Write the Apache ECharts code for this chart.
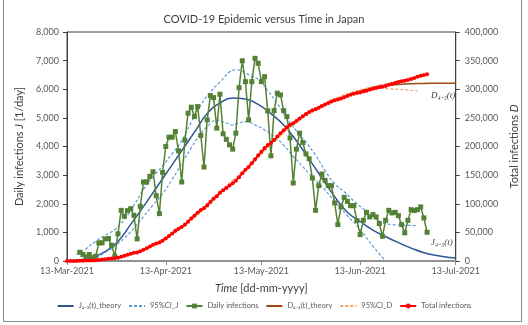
<!DOCTYPE html>
<html>
<head>
<meta charset="utf-8">
<script src="https://cdn.jsdelivr.net/npm/echarts@6/dist/echarts.min.js"></script>
<style>
  html, body { margin: 0; padding: 0; background: #fff; }
  #wrap { position: relative; width: 528px; height: 325px; }
  #chart { width: 528px; height: 325px; }
  #frame { position: absolute; left: 3px; top: -1px; width: 519px; height: 323px;
           border: 1px solid #8c8c8c; box-sizing: border-box; pointer-events: none; }
</style>
</head>
<body>
<div id="wrap"><div id="chart"></div><div id="frame"></div></div>
<script>
// X axis: days counted from 13-Mar-2021
const xTickDays = [0, 31, 61, 92, 122];
const xTickLabels = ['13-Mar-2021', '13-Apr-2021', '13-May-2021', '13-Jun-2021', '13-Jul-2021'];

// Daily infections, one value per day starting at day 4
const dailyStartDay = 4;
const dailyInfections = [
  306, 226, 146, 226, 120, 167, 634, 634, 773, 784, 551, 167, 948,
  1770, 1561, 1760, 1829, 1596, 773, 1909, 2760, 2760, 2955, 3118, 2282, 1655, 3094,
  4000, 4327, 4327, 4523, 3850, 2760,
  4220, 5164, 5373, 5045, 5394, 4383, 3282, 4930, 5777, 5707, 4641, 5826,
  4443, 4250, 4059, 3909, 4467,
  6056, 6996, 6265, 4930, 6265, 7080, 6906, 6265, 6439, 5244, 3676, 5254, 5861, 5801,
  5254, 5045, 4300, 2725, 3909, 4467, 4139, 3740, 3571,
  2899, 1770, 2631, 3038, 2815, 2631, 2631, 2028, 1272, 1889, 2223, 2084, 1934, 1934,
  1411, 923, 1422, 1700, 1540, 1620, 1540, 1307, 864, 1422, 1770, 1679, 1700, 1585,
  1272, 983, 1422, 1794, 1760, 1794, 1889, 1505, 1003
];

// Total infections, one value per day starting at day 0
const totalStartDay = 0;
const totalInfections = [
  0, 0, 0, 0, 306, 532, 678, 904, 1024, 1191, 1825, 2459, 3232, 4016, 4567, 4734, 5682,
  7452, 9013, 10773, 12602, 14198, 14971, 16880, 19640, 22400, 25355, 28473, 30755,
  32410, 35504, 39504, 43831, 48158, 52681, 56531, 59291, 63511, 68675, 74048, 79093,
  84487, 88870, 92152, 97082, 102859, 108566, 113207, 119033, 123476, 127726, 131785,
  135694, 140161, 146217, 153213, 159478, 164408, 170673, 177753, 184659, 190924,
  197363, 202607, 206283, 211537, 217398, 223199, 228453, 233498, 237798, 240523,
  244432, 248899, 253038, 256778, 260349, 263248, 265018, 267649, 270687, 273502,
  276133, 278764, 280792, 282064, 283953, 286176, 288260, 290194, 292128, 293539,
  294462, 295884, 297584, 299124, 300744, 302284, 303591, 304455, 305877, 307647,
  309326, 311026, 312611, 313883, 314866, 316288, 318082, 319842, 321636, 323525,
  325030, 326033
];

// Theory curve for daily infections
const jTheoryDays = [0, 4, 8, 12, 16, 20, 24, 28, 32, 36, 40, 44, 48, 52, 56, 60, 64, 68,
  72, 76, 80, 84, 88, 92, 96, 100, 104, 108, 112, 116, 120, 122];
const jTheory = [0, 40, 140, 330, 680, 1280, 1900, 2550, 3200, 3850, 4500, 5150, 5520,
  5690, 5660, 5470, 5150, 4750, 4200, 3550, 2900, 2250, 1700, 1380, 1080, 850, 640, 450,
  290, 190, 125, 105];

// 95% confidence band for daily infections
const ciJUpperDays = [3, 6, 9, 12, 15, 18, 21, 24, 27, 30, 33, 36, 39, 42, 45, 48, 51, 53,
  55, 58, 60, 63, 66, 69, 72, 75, 78, 81, 84, 87, 90, 93, 96, 99, 102, 106, 110];
const ciJUpper = [230, 430, 690, 900, 1100, 1450, 1950, 2500, 2950, 3320, 3750, 4200, 4850,
  5450, 5900, 6250, 6600, 6680, 6620, 6450, 6350, 5950, 5500, 5000, 4550, 4150, 3700,
  3150, 2700, 2420, 2100, 1820, 1560, 1340, 1275, 1250, 1237];
const ciJLowerDays = [3, 6, 9, 12, 15, 18, 21, 24, 27, 30, 33, 36, 39, 42, 45, 47, 50, 52,
  54, 56, 59, 62, 65, 68, 71, 74, 76, 80, 84, 88, 92, 96, 100];
const ciJLower = [20, 40, 120, 300, 520, 800, 1150, 1550, 1950, 2350, 2850, 3400, 3950,
  4450, 4800, 4920, 4820, 4750, 4820, 4870, 4750, 4580, 4350, 4050, 3650, 3300, 3050,
  2600, 2084, 1585, 1100, 520, 0];

// Theory curve for total infections
const dTheoryDays = [0, 4, 8, 12, 16, 20, 24, 28, 32, 36, 40, 44, 48, 52, 56, 60, 64, 68,
  72, 76, 80, 84, 88, 92, 96, 100, 104, 108, 112, 116, 122];
const dTheory = [0, 300, 1000, 3200, 5700, 12000, 19500, 30000, 43500, 59000, 79000,
  97500, 119000, 136000, 159000, 184000, 206000, 228000, 244000, 260000, 270500, 280500,
  289000, 297000, 303500, 306800, 308500, 309500, 310100, 310400, 310600];

// 95% confidence band for total infections
const ciDUpperDays = [0, 8, 16, 24, 32, 40, 48, 56, 64, 72, 80, 88, 96, 104, 110];
const ciDUpper = [0, 1200, 6200, 20500, 45000, 81000, 121000, 161000, 207000, 246500,
  273500, 292500, 304500, 314500, 321000];
const ciDLowerDays = [0, 8, 16, 24, 32, 40, 48, 56, 64, 72, 80, 88, 92, 95, 99, 103, 106, 110];
const ciDLower = [0, 800, 5200, 18500, 42000, 77000, 117000, 157000, 203000, 242000,
  268500, 288000, 296500, 302000, 301800, 300100, 299000, 297200];

const pairs = (days, vals) => days.map((d, i) => [d, vals[i]]);
const seq = (start, vals) => vals.map((v, i) => [start + i, v]);
const fmt = v => v.toLocaleString('en-US');

const FONT = 'Lato, "Open Sans", sans-serif';
const C_J = '#2F5597', C_CIJ = '#5B9BD5', C_DAILY = '#548235';
const C_D = '#9E480E', C_CID = '#F4A46A', C_TOTAL = '#FF0000';

// legend entries for plain lines carry no marker
const noMarker = { opacity: 0 };

const chart = echarts.init(document.getElementById('chart'), null, { renderer: 'canvas' });
chart.setOption({
  animation: false,
  textStyle: { fontFamily: FONT },
  title: {
    text: 'COVID-19 Epidemic versus Time in Japan',
    left: 'center', top: 9,
    textStyle: { fontFamily: FONT, fontSize: 11, fontWeight: 'normal', color: '#404040' }
  },
  grid: { left: 67, right: 65, top: 32, bottom: 64, show: true,
          borderColor: '#404040', borderWidth: 1, backgroundColor: 'transparent' },
  legend: {
    bottom: 10, left: 'center', itemWidth: 16, itemHeight: 6, itemGap: 7,
    textStyle: { fontFamily: FONT, fontSize: 7.5, color: '#595959' },
    data: [
      { name: 'J₄₋₃(t)_theory', itemStyle: noMarker },
      { name: '95%CI_J', itemStyle: noMarker },
      { name: 'Daily infections' },
      { name: 'D₄₋₃(t)_theory', itemStyle: noMarker },
      { name: '95%CI_D', itemStyle: noMarker },
      { name: 'Total infections' }
    ]
  },
  xAxis: {
    type: 'value', min: 0, max: 122,
    splitLine: { show: false },
    axisLine: { show: true, lineStyle: { color: '#8c8c8c', width: 1.5 } },
    axisTick: { show: true, customValues: xTickDays, length: 4, lineStyle: { color: '#8c8c8c' } },
    axisLabel: { customValues: xTickDays, formatter: v => xTickLabels[xTickDays.indexOf(v)],
                 color: '#595959', fontSize: 9, margin: 6, fontFamily: FONT },
    name: '{i|Time} [dd-mm-yyyy]', nameLocation: 'middle', nameGap: 22,
    nameTextStyle: { fontSize: 11, color: '#404040', fontFamily: FONT,
                     rich: { i: { fontStyle: 'italic', fontSize: 11, color: '#404040', fontFamily: FONT } } }
  },
  yAxis: [
    {
      type: 'value', min: 0, max: 8000, interval: 1000, position: 'left',
      splitLine: { show: false },
      axisLine: { show: true, lineStyle: { color: '#404040' } },
      axisTick: { show: true, length: 4, lineStyle: { color: '#404040' } },
      axisLabel: { formatter: fmt, color: '#595959', fontSize: 9, margin: 8, fontFamily: FONT },
      name: 'Daily infections {i|J} [1/day]', nameLocation: 'middle', nameGap: 40, nameRotate: 90,
      nameTextStyle: { fontSize: 11, color: '#404040', fontFamily: FONT,
                       rich: { i: { fontStyle: 'italic', fontSize: 11, color: '#404040', fontFamily: FONT } } }
    },
    {
      type: 'value', min: 0, max: 400000, interval: 50000, position: 'right',
      splitLine: { show: false },
      axisLine: { show: true, lineStyle: { color: '#404040' } },
      axisTick: { show: true, length: 4, lineStyle: { color: '#404040' } },
      axisLabel: { formatter: fmt, color: '#595959', fontSize: 9, margin: 9, fontFamily: FONT },
      name: 'Total infections {i|D}', nameLocation: 'middle', nameGap: 42, nameRotate: 90,
      nameTextStyle: { fontSize: 11, color: '#404040', fontFamily: FONT,
                       rich: { i: { fontStyle: 'italic', fontSize: 11, color: '#404040', fontFamily: FONT } } }
    }
  ],
  graphic: [
    { type: 'text', left: 431, top: 91, silent: true,
      style: { text: 'D₄₋₃(t)', font: 'italic 9px "Liberation Serif", serif', fill: '#404040' } },
    { type: 'text', left: 431, top: 238, silent: true,
      style: { text: 'J₄₋₃(t)', font: 'italic 9px "Liberation Serif", serif', fill: '#404040' } }
  ],
  series: [
    { name: 'J₄₋₃(t)_theory', type: 'line', yAxisIndex: 0, data: pairs(jTheoryDays, jTheory),
      smooth: true, symbol: 'none', lineStyle: { color: C_J, width: 1.5 }, itemStyle: { color: C_J }, z: 2 },
    { name: '95%CI_J', type: 'line', yAxisIndex: 0, data: pairs(ciJUpperDays, ciJUpper),
      smooth: true, symbol: 'none', lineStyle: { color: C_CIJ, width: 1.2, type: [3, 2] }, itemStyle: { color: C_CIJ }, z: 2 },
    { name: '95%CI_J', type: 'line', yAxisIndex: 0, data: pairs(ciJLowerDays, ciJLower),
      smooth: true, symbol: 'none', lineStyle: { color: C_CIJ, width: 1.2, type: [3, 2] }, itemStyle: { color: C_CIJ }, z: 2 },
    { name: 'Daily infections', type: 'line', yAxisIndex: 0, data: seq(dailyStartDay, dailyInfections),
      symbol: 'rect', symbolSize: 5, showAllSymbol: true,
      lineStyle: { color: C_DAILY, width: 1.5 }, itemStyle: { color: C_DAILY }, z: 3 },
    { name: 'D₄₋₃(t)_theory', type: 'line', yAxisIndex: 1, data: pairs(dTheoryDays, dTheory),
      smooth: 0.3, symbol: 'none', lineStyle: { color: C_D, width: 1.5 }, itemStyle: { color: C_D }, z: 3 },
    { name: '95%CI_D', type: 'line', yAxisIndex: 1, data: pairs(ciDUpperDays, ciDUpper),
      smooth: 0.3, symbol: 'none', lineStyle: { color: C_CID, width: 1.2, type: [3, 2] }, itemStyle: { color: C_CID }, z: 3 },
    { name: '95%CI_D', type: 'line', yAxisIndex: 1, data: pairs(ciDLowerDays, ciDLower),
      smooth: 0.3, symbol: 'none', lineStyle: { color: C_CID, width: 1.2, type: [3, 2] }, itemStyle: { color: C_CID }, z: 3 },
    { name: 'Total infections', type: 'line', yAxisIndex: 1, data: seq(totalStartDay, totalInfections),
      symbol: 'circle', symbolSize: 4, showAllSymbol: true,
      lineStyle: { color: C_TOTAL, width: 1.5 }, itemStyle: { color: C_TOTAL }, z: 4 }
  ]
});
</script>
</body>
</html>
